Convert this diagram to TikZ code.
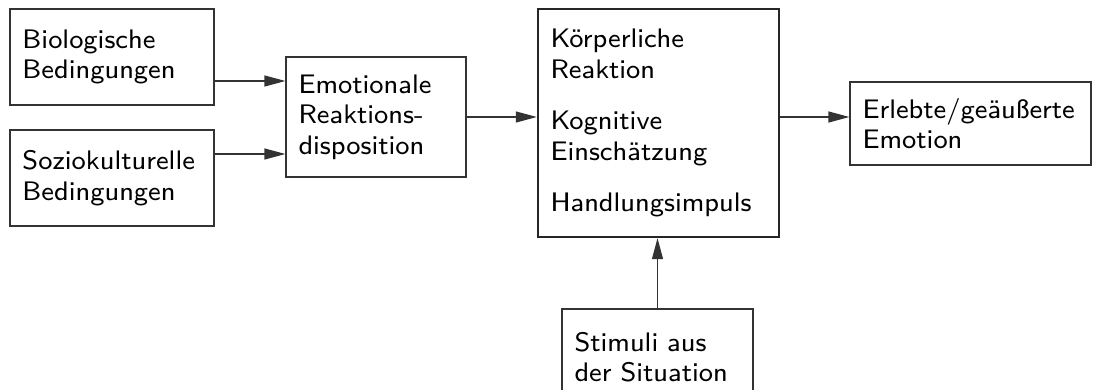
\documentclass[tikz,border=0pt]{standalone}
\usepackage{fontspec}
\setsansfont{lmsans8-regular}[Extension=.otf]
\usetikzlibrary{arrows.meta,calc}
\definecolor{boxc}{gray}{0.2}
\begin{document}
\begin{tikzpicture}[x=1pt,y=-1pt,
  box/.style={draw=boxc, line width=1.2pt, inner xsep=12.5pt, inner ysep=0pt,
    align=left, font=\sffamily\fontsize{26.8}{30.5}\selectfont, anchor=center},
  bigbox/.style={box, draw=black!85, line width=2.4pt},
  arr/.style={draw=boxc, line width=1.2pt, -{Triangle[length=21pt,width=11pt]}}]
\clip (0,0) rectangle (1093,390);
\node[box, text width=179pt, minimum height=96pt] (bio) at (112,57) {Biologische\\Bedingungen};
\node[box, text width=179pt, minimum height=96pt] (sozio) at (112,178) {Soziokulturelle\\Bedingungen};
\node[box, text width=155pt, minimum height=120pt] (emo) at (376,117) {Emotionale\\Reaktions-\\disposition};
\node[bigbox, text width=216pt, minimum height=228pt] (big) at (658.5,123) {K\"orperliche\\Reaktion\\[21pt]Kognitive\\Einsch\"atzung\\[21pt]Handlungsimpuls};
\node[box, text width=216pt, minimum height=83pt] (erl) at (970.5,123.5) {Erlebte/ge\"au\ss erte\\Emotion};
\node[box, text width=166pt, minimum height=96pt] (stim) at (657.5,357) {Stimuli aus\\der Situation};
\draw[arr] ([yshift=36pt]emo.west -| bio.east) -- ([yshift=36pt]emo.west);
\draw[arr] ([yshift=-37pt]emo.west -| sozio.east) -- ([yshift=-37pt]emo.west);
\draw[arr] (emo.east) -- (emo.east -| big.west);
\draw[arr] (emo.east -| big.east) -- (emo.east -| erl.west);
\draw[arr] (stim.north) -- (stim.north |- big.south);
\end{tikzpicture}
\end{document}
